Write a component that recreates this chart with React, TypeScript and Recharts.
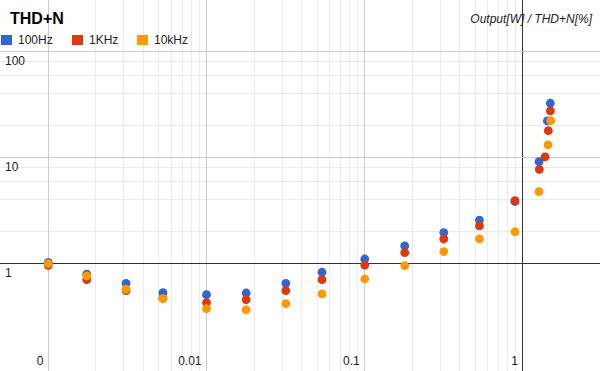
import { ScatterChart, Scatter, XAxis, YAxis, ReferenceLine } from 'recharts'

// output power [W] of the regular steps, shared by the three sweeps
const powerW = [0.001, 0.00175, 0.0031, 0.0053, 0.01, 0.0178, 0.0317, 0.0537, 0.1, 0.179, 0.316, 0.531, 0.89]

// THD+N [%] at those steps
const thd100Hz = [1.03, 0.796, 0.653, 0.533, 0.51, 0.529, 0.653, 0.83, 1.107, 1.47, 1.96, 2.58, 3.86]
const thd1kHz = [0.966, 0.706, 0.556, 0.47, 0.429, 0.457, 0.556, 0.706, 0.97, 1.27, 1.71, 2.27, 3.93]
const thd10kHz = [1.0, 0.766, 0.574, 0.468, 0.376, 0.366, 0.42, 0.518, 0.717, 0.957, 1.3, 1.71, 2.0]

// clipping region, each sweep has its own steps here
const tailPower100Hz = [1.264, 1.427, 1.49]
const tailThd100Hz = [9.17, 22.2, 32.6]
const tailPower1kHz = [1.269, 1.38, 1.447, 1.49]
const tailThd1kHz = [7.77, 10.15, 17.98, 27.6]
const tailPower10kHz = [1.264, 1.441, 1.498]
const tailThd10kHz = [4.78, 13.18, 22.3]

const xTicks = [0.001, 0.01, 0.1, 1]
const xTickLabels = ['0', '0.01', '0.1', '1']
const yTicks = [1, 10, 100]
const yTickLabels = ['1', '10', '100']

const X_DOMAIN = [0.000495, 3.07]
const Y_DOMAIN = [0.0972, 307]

const FONT = 'Arial, "Liberation Sans", sans-serif'

const toPoints = (xs: number[], ys: number[]) => xs.map((x, i) => ({ x, y: ys[i] }))

const SERIES = [
  { name: '100Hz', color: '#3366CC', data: toPoints([...powerW, ...tailPower100Hz], [...thd100Hz, ...tailThd100Hz]) },
  { name: '1KHz', color: '#DC3912', data: toPoints([...powerW, ...tailPower1kHz], [...thd1kHz, ...tailThd1kHz]) },
  { name: '10kHz', color: '#FF9900', data: toPoints([...powerW, ...tailPower10kHz], [...thd10kHz, ...tailThd10kHz]) },
]

// minor gridlines: decades between 0.001 and 1 (x) and 1 and 100 (y)
const xMinor: number[] = []
for (const d of [0.001, 0.01, 0.1]) for (let m = 2; m <= 9; m++) xMinor.push(d * m)
const yMinor: number[] = []
for (const d of [1, 10]) for (const m of [2, 4, 6, 8]) yMinor.push(d * m)

const xLabel = (text: string) => (p: any) => {
  const vb = p.viewBox
  return (
    <text x={vb.x - 5} y={vb.y + vb.height - 6} textAnchor="end" fontSize={12} fill="#222" fontFamily={FONT}>
      {text}
    </text>
  )
}

const yLabel = (text: string) => (p: any) => {
  const vb = p.viewBox
  return (
    <text x={vb.x + 5} y={vb.y + 13} textAnchor="start" fontSize={12} fill="#222" fontFamily={FONT}>
      {text}
    </text>
  )
}

const legendX = [1, 72, 137]

export default function App() {
  return (
    <div style={{ position: 'absolute', left: 0, top: 0, width: 600, height: 371, background: '#fff' }}>
      <ScatterChart width={600} height={371} margin={{ top: 0, right: 0, bottom: 0, left: 0 }}>
        <XAxis type="number" dataKey="x" scale="log" domain={X_DOMAIN} allowDataOverflow hide />
        <YAxis type="number" dataKey="y" scale="log" domain={Y_DOMAIN} allowDataOverflow hide />
        {xMinor.map((v) => (
          <ReferenceLine key={'xm' + v} x={v} stroke="#ebebeb" shapeRendering="crispEdges" />
        ))}
        {yMinor.map((v) => (
          <ReferenceLine key={'ym' + v} y={v} stroke="#ebebeb" shapeRendering="crispEdges" />
        ))}
        {xTicks.map((v, i) => (
          <ReferenceLine
            key={'xM' + v}
            x={v}
            stroke={v === 1 ? '#333' : '#cccccc'}
            shapeRendering="crispEdges"
            label={xLabel(xTickLabels[i])}
          />
        ))}
        {yTicks.map((v, i) => (
          <ReferenceLine
            key={'yM' + v}
            y={v}
            stroke={v === 1 ? '#333' : '#cccccc'}
            shapeRendering="crispEdges"
            label={yLabel(yTickLabels[i])}
          />
        ))}
        {SERIES.map((s) => (
          <Scatter
            key={s.name}
            name={s.name}
            data={s.data}
            fill={s.color}
            isAnimationActive={false}
            shape={(p: any) => <circle cx={p.cx} cy={p.cy} r={4.4} fill={s.color} />}
          />
        ))}
      </ScatterChart>
      <svg width={600} height={60} style={{ position: 'absolute', left: 0, top: 0, pointerEvents: 'none' }}>
        <text x={10} y={24} fontSize={16} fontWeight="bold" fill="#000" fontFamily={FONT}>
          THD+N
        </text>
        <text x={592} y={23} fontSize={12} fontStyle="italic" fill="#222" textAnchor="end" fontFamily={FONT}>
          Output[W] / THD+N[%]
        </text>
        {SERIES.map((s, i) => (
          <g key={s.name}>
            <rect x={legendX[i]} y={35} width={11} height={10} fill={s.color} />
            <text x={legendX[i] + 17} y={43.5} fontSize={12} fill="#222" fontFamily={FONT}>
              {s.name}
            </text>
          </g>
        ))}
      </svg>
    </div>
  )
}
